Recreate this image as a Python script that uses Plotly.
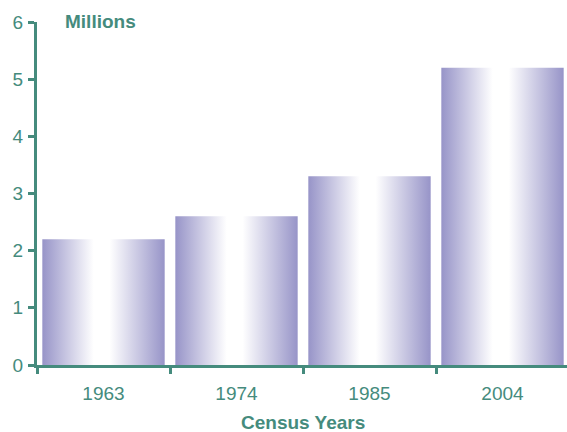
import plotly.graph_objects as go

years = ["1963", "1974", "1985", "2004"]
values = [2.2, 2.6, 3.3, 5.2]
y_ticks = [0, 1, 2, 3, 4, 5, 6]

TEAL = "#458B7D"
EDGE = "#9794C8"
BAR_W = 0.92

fig = go.Figure()
positions = list(range(len(years)))
for pos, val in zip(positions, values):
    x0, x1 = pos - BAR_W / 2, pos + BAR_W / 2
    fig.add_trace(go.Scatter(
        x=[x0, x0, x1, x1, x0],
        y=[0, val, val, 0, 0],
        mode="lines",
        line=dict(width=0),
        fill="toself",
        fillgradient=dict(
            type="horizontal",
            colorscale=[[0, EDGE], [0.42, "#FFFFFF"], [0.55, "#FFFFFF"], [1, EDGE]],
        ),
        hoverinfo="skip",
        showlegend=False,
    ))

boundaries = [p - 0.5 for p in positions] + [positions[-1] + 0.5]

fig.update_layout(
    width=567, height=432,
    margin=dict(l=37, r=0, t=22, b=67),
    paper_bgcolor="white", plot_bgcolor="white",
    font=dict(family="Liberation Sans, Arial, sans-serif", color=TEAL, size=19),
    xaxis=dict(
        range=[-0.5, -0.5 + 530 / 133],
        tickmode="array", tickvals=positions, ticktext=years,
        ticks="", showgrid=False, zeroline=False,
        showline=True, linecolor=TEAL, linewidth=3,
        tickfont=dict(size=19, color=TEAL),
        ticklabelstandoff=9,
        minor=dict(tickmode="array", tickvals=boundaries, ticks="outside",
                   ticklen=6, tickwidth=3, tickcolor=TEAL, showgrid=False),
        fixedrange=True,
    ),
    yaxis=dict(
        range=[0, 6],
        tickmode="array", tickvals=y_ticks,
        ticks="outside", ticklen=6, tickwidth=3, tickcolor=TEAL,
        showgrid=False, zeroline=False,
        showline=True, linecolor=TEAL, linewidth=3,
        tickfont=dict(size=19, color=TEAL),
        ticklabelstandoff=1,
        fixedrange=True,
    ),
    annotations=[
        dict(text="<b>Millions</b>", xref="paper", yref="paper",
             x=(63 - 37) / 530, y=1, yshift=1, xanchor="left", yanchor="middle",
             showarrow=False, font=dict(size=19, color=TEAL)),
        dict(text="<b>Census Years</b>", xref="paper", yref="paper",
             x=(303 - 37) / 530, y=0, yshift=-57, xanchor="center", yanchor="middle",
             showarrow=False, font=dict(size=19, color=TEAL)),
    ],
)

fig.write_html("out.html")
